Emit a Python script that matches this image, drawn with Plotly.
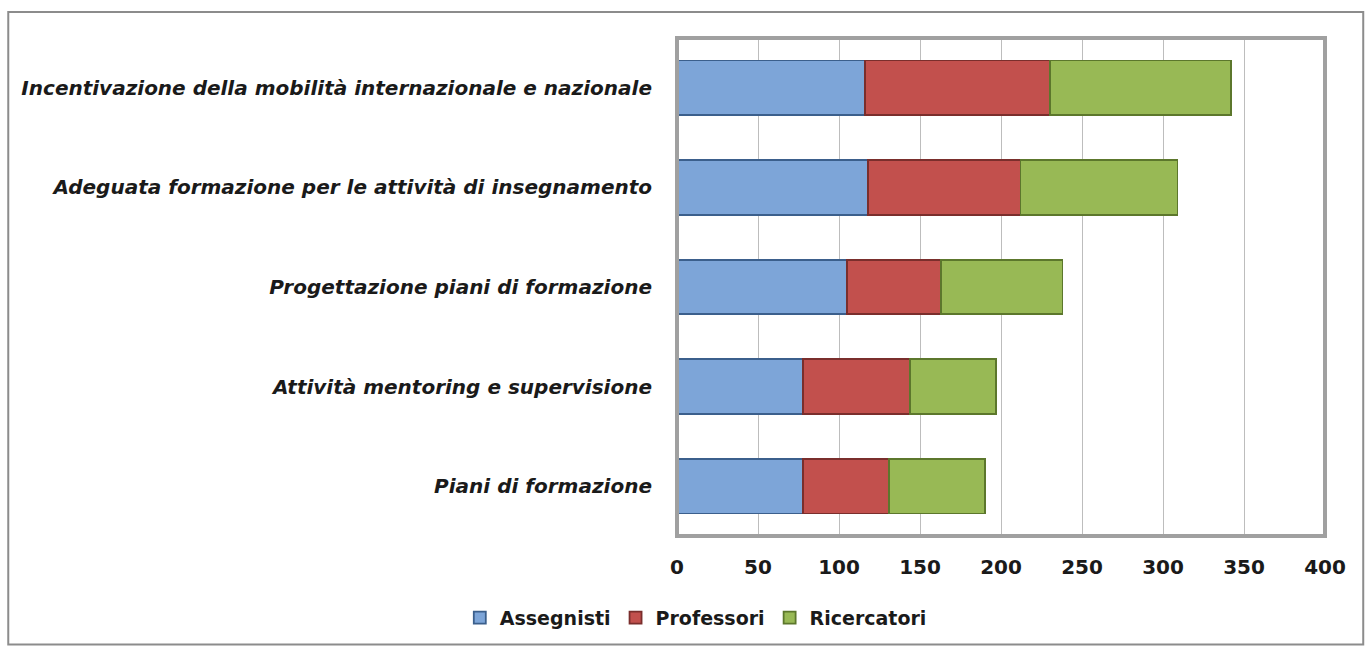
import plotly.graph_objects as go

categories = [
    "Incentivazione della mobilità internazionale e nazionale",
    "Adeguata formazione per le attività di insegnamento",
    "Progettazione piani di formazione",
    "Attività mentoring e supervisione",
    "Piani di formazione",
]
assegnisti = [116, 118, 105, 78, 78]
professori = [114, 94, 58, 66, 53]
ricercatori = [112, 97, 75, 53, 59]
x_ticks = [0, 50, 100, 150, 200, 250, 300, 350, 400]

series = [
    ("Assegnisti", assegnisti, "#7DA5D8", "#3B5F8C"),
    ("Professori", professori, "#C2504D", "#7A2E2C"),
    ("Ricercatori", ricercatori, "#98B955", "#5C772C"),
]

FONT = "DejaVu Sans"

fig = go.Figure()
for name, vals, col, edge in series:
    fig.add_trace(go.Bar(
        y=categories, x=vals, name=name, orientation="h",
        marker=dict(color=col, line=dict(color=edge, width=1.8)),
    ))

fig.update_layout(
    barmode="stack",
    bargap=0.45,
    width=1368, height=648,
    margin=dict(l=677, r=43, t=38, b=111),
    paper_bgcolor="white", plot_bgcolor="white",
    font=dict(family=FONT, color="#1a1a1a"),
    legend=dict(
        orientation="h", x=0.029, xanchor="center", y=-0.162, yanchor="middle",
        font=dict(size=19, family=FONT, weight="bold"),
        traceorder="normal", itemwidth=30,
    ),
    xaxis=dict(
        range=[0, 400], tickvals=x_ticks, showgrid=True, gridcolor="#BDBDBD",
        gridwidth=1, zeroline=False, showline=False,
        tickfont=dict(size=20, family=FONT, weight="bold"),
        ticklabelstandoff=17,
    ),
    yaxis=dict(
        categoryorder="array", categoryarray=categories[::-1],
        showgrid=False, showline=False,
        tickfont=dict(size=20, family=FONT, weight="bold", style="italic"),
        ticklabelstandoff=24,
    ),
    shapes=[
        dict(type="rect", xref="paper", yref="paper", x0=0, x1=1, y0=0, y1=1,
             line=dict(color="#A0A0A0", width=4), layer="above"),
        dict(type="rect", xref="paper", yref="paper", x0=-1.032, x1=1.059,
             y0=-0.218, y1=1.052, line=dict(color="#8C8C8C", width=2)),
    ],
)

fig.write_html("out.html")
